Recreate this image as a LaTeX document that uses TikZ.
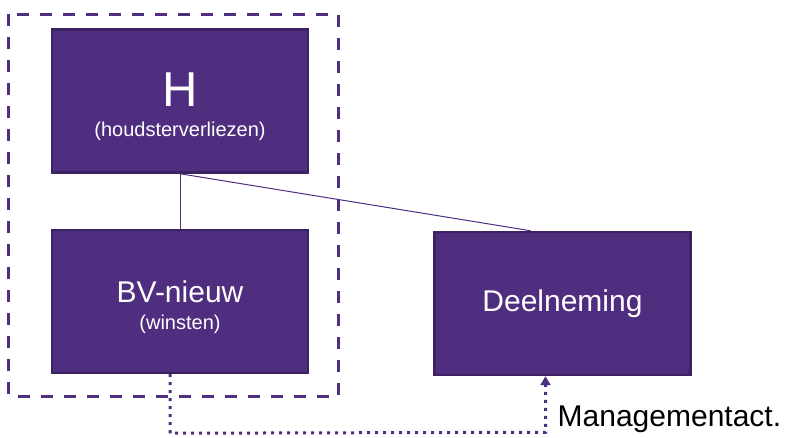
\documentclass[tikz,border=0pt]{standalone}
\usepackage{fontspec}
\setmainfont{Liberation Sans}
\usepackage{xcolor}
\usetikzlibrary{arrows.meta,positioning,calc}

\definecolor{paars}{HTML}{4F2D7F}
\definecolor{paarsrand}{HTML}{3C2163}

\newcommand{\fs}[1]{\fontsize{#1}{1.2\dimexpr#1pt\relax}\selectfont}

\begin{document}
\begin{tikzpicture}[
    x=1pt, y=-1pt,
    node distance=55pt and 124pt,
    ent/.style={rectangle, draw=paarsrand, fill=paars, line width=2.5pt, text=white, align=center, minimum width=256pt, minimum height=143pt, inner sep=0pt, font=\fs{20}},
    lijn/.style={draw=paars, line width=1pt},
    groep/.style={draw=paars, line width=3pt, dash pattern=on 12pt off 11pt},
    mgmt/.style={draw=paars, line width=3pt, dash pattern=on 3pt off 5pt, -{Triangle[width=10pt,length=9pt]}}
]
    \useasboundingbox (0,0) rectangle (785,438);

    \node [ent] (h) at (180,101) {\rule{0pt}{45pt}{\fs{49}H}\\[6pt](houdsterverliezen)};
    \node [ent, below=of h] (bv) {\rule{0pt}{33pt}{\fs{30}BV-nieuw}\\[3pt](winsten)};
    \node [ent, right=of bv, yshift=-2pt] (deel) {\fs{30}Deelneming};

    % fiscale eenheid
    \draw [groep] ($(h.north west)+(-42,-14)$) rectangle ($(bv.south east)+(29,22)$);

    \draw [lijn] (h.south) -- (bv.north);
    \draw [lijn] (h.south) -- ($(deel.north)+(-32,0)$);

    \coordinate (hoek1) at ($(bv.south)+(-10,59)$);
    \coordinate (hoek2) at ($(deel.south)+(-17,56)$);
    \draw [mgmt] ($(bv.south)+(-10,0)$) -- (hoek1) -- (hoek2) -- ($(deel.south)+(-17,0)$);

    \node [anchor=west, inner sep=0pt] (mact) at ($(hoek2)+(12,-13)$) {\fs{30}Managementact.};
\end{tikzpicture}
\end{document}
